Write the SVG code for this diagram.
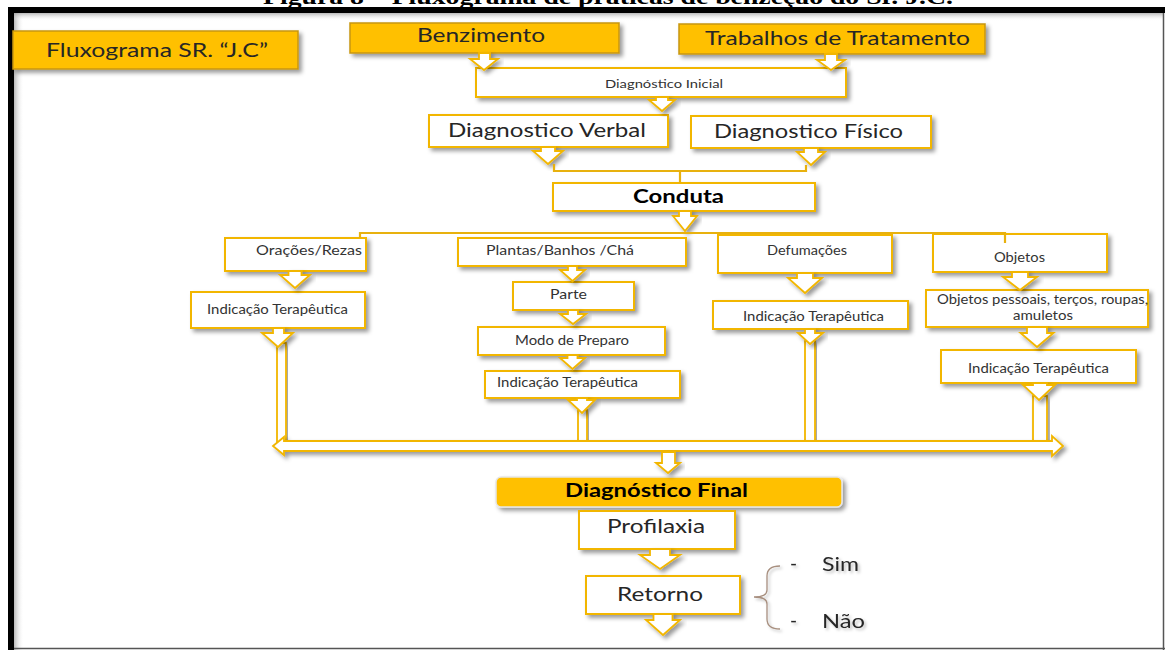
<svg xmlns="http://www.w3.org/2000/svg" width="1165" height="650" viewBox="0 0 1165 650">
<defs>
<filter id="sh" x="-10%" y="-20%" width="130%" height="160%">
<feDropShadow dx="3" dy="3" stdDeviation="2" flood-color="#000" flood-opacity="0.4"/>
</filter>
<filter id="tsh" x="-10%" y="-30%" width="130%" height="170%">
<feDropShadow dx="2" dy="2" stdDeviation="1.5" flood-color="#000" flood-opacity="0.25"/>
</filter>
<linearGradient id="gl" x1="0" y1="0" x2="1" y2="0">
<stop offset="0" stop-color="#9a9a9a" stop-opacity="0.7"/>
<stop offset="1" stop-color="#ffffff" stop-opacity="0"/>
</linearGradient>
<linearGradient id="gt" x1="0" y1="0" x2="0" y2="1">
<stop offset="0" stop-color="#9a9a9a" stop-opacity="0.7"/>
<stop offset="1" stop-color="#ffffff" stop-opacity="0"/>
</linearGradient>
</defs>
<style>
.gold{fill:#FFC000;stroke:#C8960C;stroke-width:1.5;filter:url(#sh)}
.wb{fill:#fff;stroke:#F2B600;stroke-width:2;filter:url(#sh)}
.fin{fill:#FFC000;stroke:#e6e6e6;stroke-width:1.5;filter:url(#sh)}
.arr{fill:#fff;stroke:#F2B600;stroke-width:1.8;stroke-linejoin:miter;filter:url(#sh)}
.ln{fill:none;stroke:#E8B10E;stroke-width:2.2}
.t{font-family:Lato,"Open Sans",sans-serif;fill:#262626}
.b{font-family:Lato,"Open Sans",sans-serif;font-weight:bold;fill:#000}
.s{font-family:Lato,"Open Sans",sans-serif;fill:#333}
.cap{font-family:"Liberation Serif","Times New Roman",serif;font-weight:bold;fill:#000}
</style>
<rect x="0" y="0" width="1165" height="650" fill="#fff"/>
<text class="cap" x="263" y="4" font-size="21" textLength="690" lengthAdjust="spacingAndGlyphs">Figura 8 – Fluxograma de práticas de benzeção do Sr. J.C.</text>
<g id="frame">
<rect x="14" y="13" width="10" height="637" fill="url(#gl)"/>
<rect x="14" y="13" width="1149" height="8" fill="url(#gt)"/>
<rect x="8" y="7" width="1157" height="6" fill="#000"/>
<rect x="8" y="7" width="6" height="643" fill="#000"/>
<line x1="1163.5" y1="13" x2="1163.5" y2="650" stroke="#555" stroke-width="1.5"/>
<line x1="14" y1="648.5" x2="1165" y2="648.5" stroke="#555" stroke-width="1.5"/>
</g>

<g id="n-title"><rect class="gold" x="13" y="31" width="285" height="38"/>
<text class="t" x="46" y="57" font-size="18.5" textLength="222" lengthAdjust="spacingAndGlyphs">Fluxograma SR. “J.C”</text></g>
<g id="n-benzimento"><rect class="gold" x="350" y="23" width="269" height="30"/>
<text class="t" x="417" y="42" font-size="18.5" textLength="128" lengthAdjust="spacingAndGlyphs">Benzimento</text></g>
<g id="n-trabalhos"><rect class="gold" x="679" y="24" width="306" height="30"/>
<text class="t" x="705" y="45" font-size="20" textLength="265" lengthAdjust="spacingAndGlyphs">Trabalhos de Tratamento</text></g>
<g id="n-diag-inicial"><rect class="wb" x="476" y="68" width="370" height="29"/>
<text class="s" x="605" y="88" font-size="11.6" textLength="118" lengthAdjust="spacingAndGlyphs">Diagnóstico Inicial</text></g>
<g id="n-verbal"><rect class="wb" x="429" y="115" width="239" height="32"/>
<text class="t" x="448" y="137" font-size="18.5" textLength="198" lengthAdjust="spacingAndGlyphs">Diagnostico Verbal</text></g>
<g id="n-fisico"><rect class="wb" x="691" y="116" width="240" height="32"/>
<text class="t" x="714" y="138" font-size="18.5" textLength="189" lengthAdjust="spacingAndGlyphs">Diagnostico Físico</text></g>
<g id="n-conduta"><rect class="wb" x="553" y="183" width="262" height="28"/>
<text class="b" x="633" y="203" font-size="18.5" textLength="91" lengthAdjust="spacingAndGlyphs">Conduta</text></g>

<g id="n-oracoes"><rect class="wb" x="225" y="238" width="141" height="33"/>
<text class="s" x="256" y="255" font-size="14" textLength="106" lengthAdjust="spacingAndGlyphs">Orações/Rezas</text></g>
<g id="n-indic1"><rect class="wb" x="191" y="292" width="174" height="36"/>
<text class="s" x="207" y="314" font-size="12.5" textLength="141" lengthAdjust="spacingAndGlyphs">Indicação Terapêutica</text></g>
<g id="n-plantas"><rect class="wb" x="458" y="238" width="228" height="28"/>
<text class="s" x="486" y="255" font-size="14" textLength="148" lengthAdjust="spacingAndGlyphs">Plantas/Banhos /Chá</text></g>
<g id="n-parte"><rect class="wb" x="513" y="282" width="121" height="28"/>
<text class="s" x="550" y="299" font-size="12.5" textLength="37" lengthAdjust="spacingAndGlyphs">Parte</text></g>
<g id="n-modo"><rect class="wb" x="478" y="327" width="187" height="28"/>
<text class="s" x="515" y="345" font-size="12.5" textLength="114" lengthAdjust="spacingAndGlyphs">Modo de Preparo</text></g>
<g id="n-indic2"><rect class="wb" x="485" y="371" width="195" height="27"/>
<text class="s" x="497" y="387" font-size="12.5" textLength="141" lengthAdjust="spacingAndGlyphs">Indicação Terapêutica</text></g>
<g id="n-defumacoes"><rect class="wb" x="718" y="235" width="174" height="38"/>
<text class="s" x="767" y="255" font-size="14" textLength="80" lengthAdjust="spacingAndGlyphs">Defumações</text></g>
<g id="n-indic3"><rect class="wb" x="713" y="301" width="195" height="28"/>
<text class="s" x="743" y="321" font-size="12.5" textLength="141" lengthAdjust="spacingAndGlyphs">Indicação Terapêutica</text></g>
<g id="n-objetos"><rect class="wb" x="933" y="234" width="174" height="38"/>
<text class="s" x="994" y="262" font-size="12.5" textLength="51" lengthAdjust="spacingAndGlyphs">Objetos</text></g>
<g id="n-objpessoais"><rect class="wb" x="926" y="290" width="222" height="37"/>
<text class="s" x="937" y="304" font-size="12.5" textLength="211" lengthAdjust="spacingAndGlyphs">Objetos pessoais, terços, roupas,</text>
<text class="s" x="1013" y="320" font-size="12.5" textLength="60" lengthAdjust="spacingAndGlyphs">amuletos</text></g>
<g id="n-indic4"><rect class="wb" x="941" y="350" width="195" height="33"/>
<text class="s" x="968" y="373" font-size="12.5" textLength="141" lengthAdjust="spacingAndGlyphs">Indicação Terapêutica</text></g>

<g id="n-diag-final"><rect class="fin" x="496" y="477" width="346" height="30" rx="5"/>
<text class="b" x="565" y="497" font-size="19.5" textLength="183" lengthAdjust="spacingAndGlyphs">Diagnóstico Final</text></g>
<g id="n-profilaxia"><rect class="wb" x="579" y="511" width="156" height="38"/>
<text class="t" x="607" y="533" font-size="19.5" textLength="98" lengthAdjust="spacingAndGlyphs">Profilaxia</text></g>
<g id="n-retorno"><rect class="wb" x="586" y="576" width="154" height="38"/>
<text class="t" x="617" y="601" font-size="19.5" textLength="86" lengthAdjust="spacingAndGlyphs">Retorno</text></g>
<g id="n-opcoes" filter="url(#tsh)">
<path d="M780,566 Q767,566 767,576 L767,590 Q767,597 754,597 Q767,597 767,604 L767,619 Q767,629 780,629" fill="none" stroke="#A89080" stroke-width="1.3"/>
<text class="t" x="790" y="570" font-size="19">-</text>
<text class="t" x="822" y="571" font-size="19" textLength="37" lengthAdjust="spacingAndGlyphs">Sim</text>
<text class="t" x="790" y="627" font-size="19">-</text>
<text class="t" x="822" y="628" font-size="19" textLength="43" lengthAdjust="spacingAndGlyphs">Não</text>
</g>

<g id="connectors">
<!-- top arrows -->
<path class="arr" d="M479,53 L490,53 L490,59 L498,59 L484,70 L470,59 L479,59 Z"/>
<path class="arr" d="M825,54 L837,54 L837,60 L845,60 L831,70 L817,60 L825,60 Z"/>
<path class="arr" d="M656,97 L668,97 L668,100 L675,100 L662,111 L649,100 L656,100 Z"/>
<path class="arr" d="M541,147 L555,147 L555,151 L563,151 L548,164 L533,151 L541,151 Z"/>
<path class="arr" d="M804,148 L818,148 L818,152 L825,152 L811,165 L797,152 L804,152 Z"/>
<path class="ln" d="M554,164 L554,171 L806,171 L806,165 M680,171 L680,183"/>
<path class="arr" d="M679,211 L691,211 L691,216 L697,216 L685,231 L673,216 L679,216 Z"/>
<path class="ln" d="M360,238 L360,233 L1005,233 L1005,243"/>
<!-- branch arrows -->
<path class="arr" d="M288.5,271 L301.5,271 L301.5,275 L310,275 L295,288 L280,275 L288.5,275 Z"/>
<path class="arr" d="M568,266 L577,266 L577,270 L585,270 L572.5,281 L560,270 L568,270 Z"/>
<path class="arr" d="M568,310 L578,310 L578,314 L586,314 L573,324 L560,314 L568,314 Z"/>
<path class="arr" d="M567.5,355 L577.5,355 L577.5,358 L585,358 L572.5,369 L560,358 L567.5,358 Z"/>
<path class="arr" d="M797,273 L813,273 L813,278 L822,278 L805,293 L788,278 L797,278 Z"/>
<path class="arr" d="M1012,272 L1028,272 L1028,277 L1037,277 L1020,290 L1003,277 L1012,277 Z"/>
<path class="arr" d="M1027,327 L1047,327 L1047,333 L1053.5,333 L1037,347 L1020.5,333 L1027,333 Z"/>
<!-- long down arrows into bar -->
<rect class="arr" x="277" y="343" width="9" height="100"/>
<path class="arr" d="M273,328 L284,328 L284,333 L293,333 L278,347 L262,333 L273,333 Z"/>
<rect class="arr" x="578" y="410" width="9" height="33"/>
<path class="arr" d="M577,398 L587,398 L587,400 L595,400 L582,413 L568,400 L577,400 Z"/>
<rect class="arr" x="805" y="341" width="10" height="102"/>
<path class="arr" d="M805,329 L815,329 L815,333 L823,333 L810,344 L798,333 L805,333 Z"/>
<rect class="arr" x="1033" y="396" width="14" height="47"/>
<path class="arr" d="M1033,383 L1047,383 L1047,385 L1055,385 L1039,400 L1023,385 L1033,385 Z"/>
<!-- double-headed bar -->
<path class="arr" d="M273,446 L284,437 L284,441 L1052,441 L1052,436 L1063,446 L1052,456 L1052,451 L284,451 L284,455 Z"/>
<!-- to final -->
<path class="arr" d="M662,452 L675,452 L675,463 L680,463 L668,473 L656,463 L662,463 Z"/>
<path class="arr" d="M650,549 L670,549 L670,555 L680,555 L660,569 L640,555 L650,555 Z"/>
<path class="arr" d="M653.5,614 L672.5,614 L672.5,620 L680,620 L663,635 L646,620 L653.5,620 Z"/>
</g>
</svg>
